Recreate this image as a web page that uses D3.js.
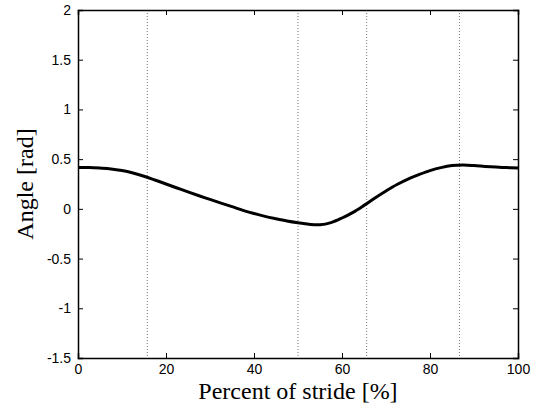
<!DOCTYPE html>
<html><head><meta charset="utf-8">
<script src="https://cdn.jsdelivr.net/npm/d3@7"></script>
<style>body{margin:0;background:#fff}svg{display:block}</style>
</head><body>
<script>
const stridePct = [0,2.5,5,7.5,10,12.5,15,17.5,20,22.5,25,27.5,30,32.5,35,37.5,40,42.5,45,47.5,50,52.5,55,57.5,60,62.5,65,67.5,70,72.5,75,77.5,80,82.5,85,87.5,90,92.5,95,97.5,100];
const angleRad = [0.415,0.415,0.41,0.402,0.385,0.36,0.328,0.29,0.25,0.21,0.17,0.132,0.095,0.058,0.022,-0.015,-0.047,-0.076,-0.1,-0.122,-0.14,-0.155,-0.16,-0.138,-0.092,-0.035,0.035,0.11,0.18,0.245,0.3,0.345,0.385,0.415,0.435,0.44,0.435,0.427,0.42,0.415,0.41];
const eventLines = [15.75, 50, 65.6, 86.7];
const xTicks = [0,20,40,60,80,100];
const yTicks = [-1.5,-1,-0.5,0,0.5,1,1.5,2];

const W=534,H=407, m={l:78,r:16,t:10,b:49};
const svg=d3.select("body").append("svg").attr("width",W).attr("height",H);
const x=d3.scaleLinear().domain([0,100]).range([m.l,W-m.r]);
const y=d3.scaleLinear().domain([-1.5,2]).range([H-m.b,m.t]);

// event lines
svg.append("g").selectAll("line").data(eventLines).join("line")
  .attr("x1",d=>x(d)).attr("x2",d=>x(d)).attr("y1",y(2)).attr("y2",y(-1.5))
  .attr("stroke","#777").attr("stroke-width",1).attr("stroke-dasharray","1,2");

// curve
svg.append("path").datum(stridePct.map((p,i)=>[p,angleRad[i]]))
  .attr("d",d3.line().x(d=>x(d[0])).y(d=>y(d[1])).curve(d3.curveCatmullRom))
  .attr("fill","none").attr("stroke","#000").attr("stroke-width",3);

// axes
const fnt="Liberation Sans, Arial, sans-serif";
const ax=svg.append("g").attr("transform",`translate(0,${y(-1.5)})`)
  .call(d3.axisBottom(x).tickValues(xTicks).tickSize(-5).tickPadding(6).tickFormat(d3.format("d")));
const axT=svg.append("g").attr("transform",`translate(0,${y(2)})`)
  .call(d3.axisTop(x).tickValues(xTicks).tickSize(-5).tickFormat(""));
const ay=svg.append("g").attr("transform",`translate(${x(0)},0)`)
  .call(d3.axisLeft(y).tickValues(yTicks).tickSize(-5).tickPadding(7).tickFormat(d=>String(d)));
const ayR=svg.append("g").attr("transform",`translate(${x(100)},0)`)
  .call(d3.axisRight(y).tickValues(yTicks).tickSize(-5).tickFormat(""));
[ax,axT,ay,ayR].forEach(g=>{
  g.select(".domain").attr("stroke","#000").attr("stroke-width",1.5);
  g.selectAll(".tick line").attr("stroke","#000");
  g.selectAll("text").attr("font-family",fnt).attr("font-size",14).attr("fill","#000");
});

svg.append("text").attr("x",x(50)).attr("y",399).attr("text-anchor","middle")
  .attr("font-family","Liberation Serif, Times New Roman, serif").attr("font-size",24).text("Percent of stride [%]");
svg.append("text").attr("transform",`translate(33,${y(0.25)}) rotate(-90)`).attr("text-anchor","middle")
  .attr("font-family","Liberation Serif, Times New Roman, serif").attr("font-size",24).text("Angle [rad]");
</script>
</body></html>
